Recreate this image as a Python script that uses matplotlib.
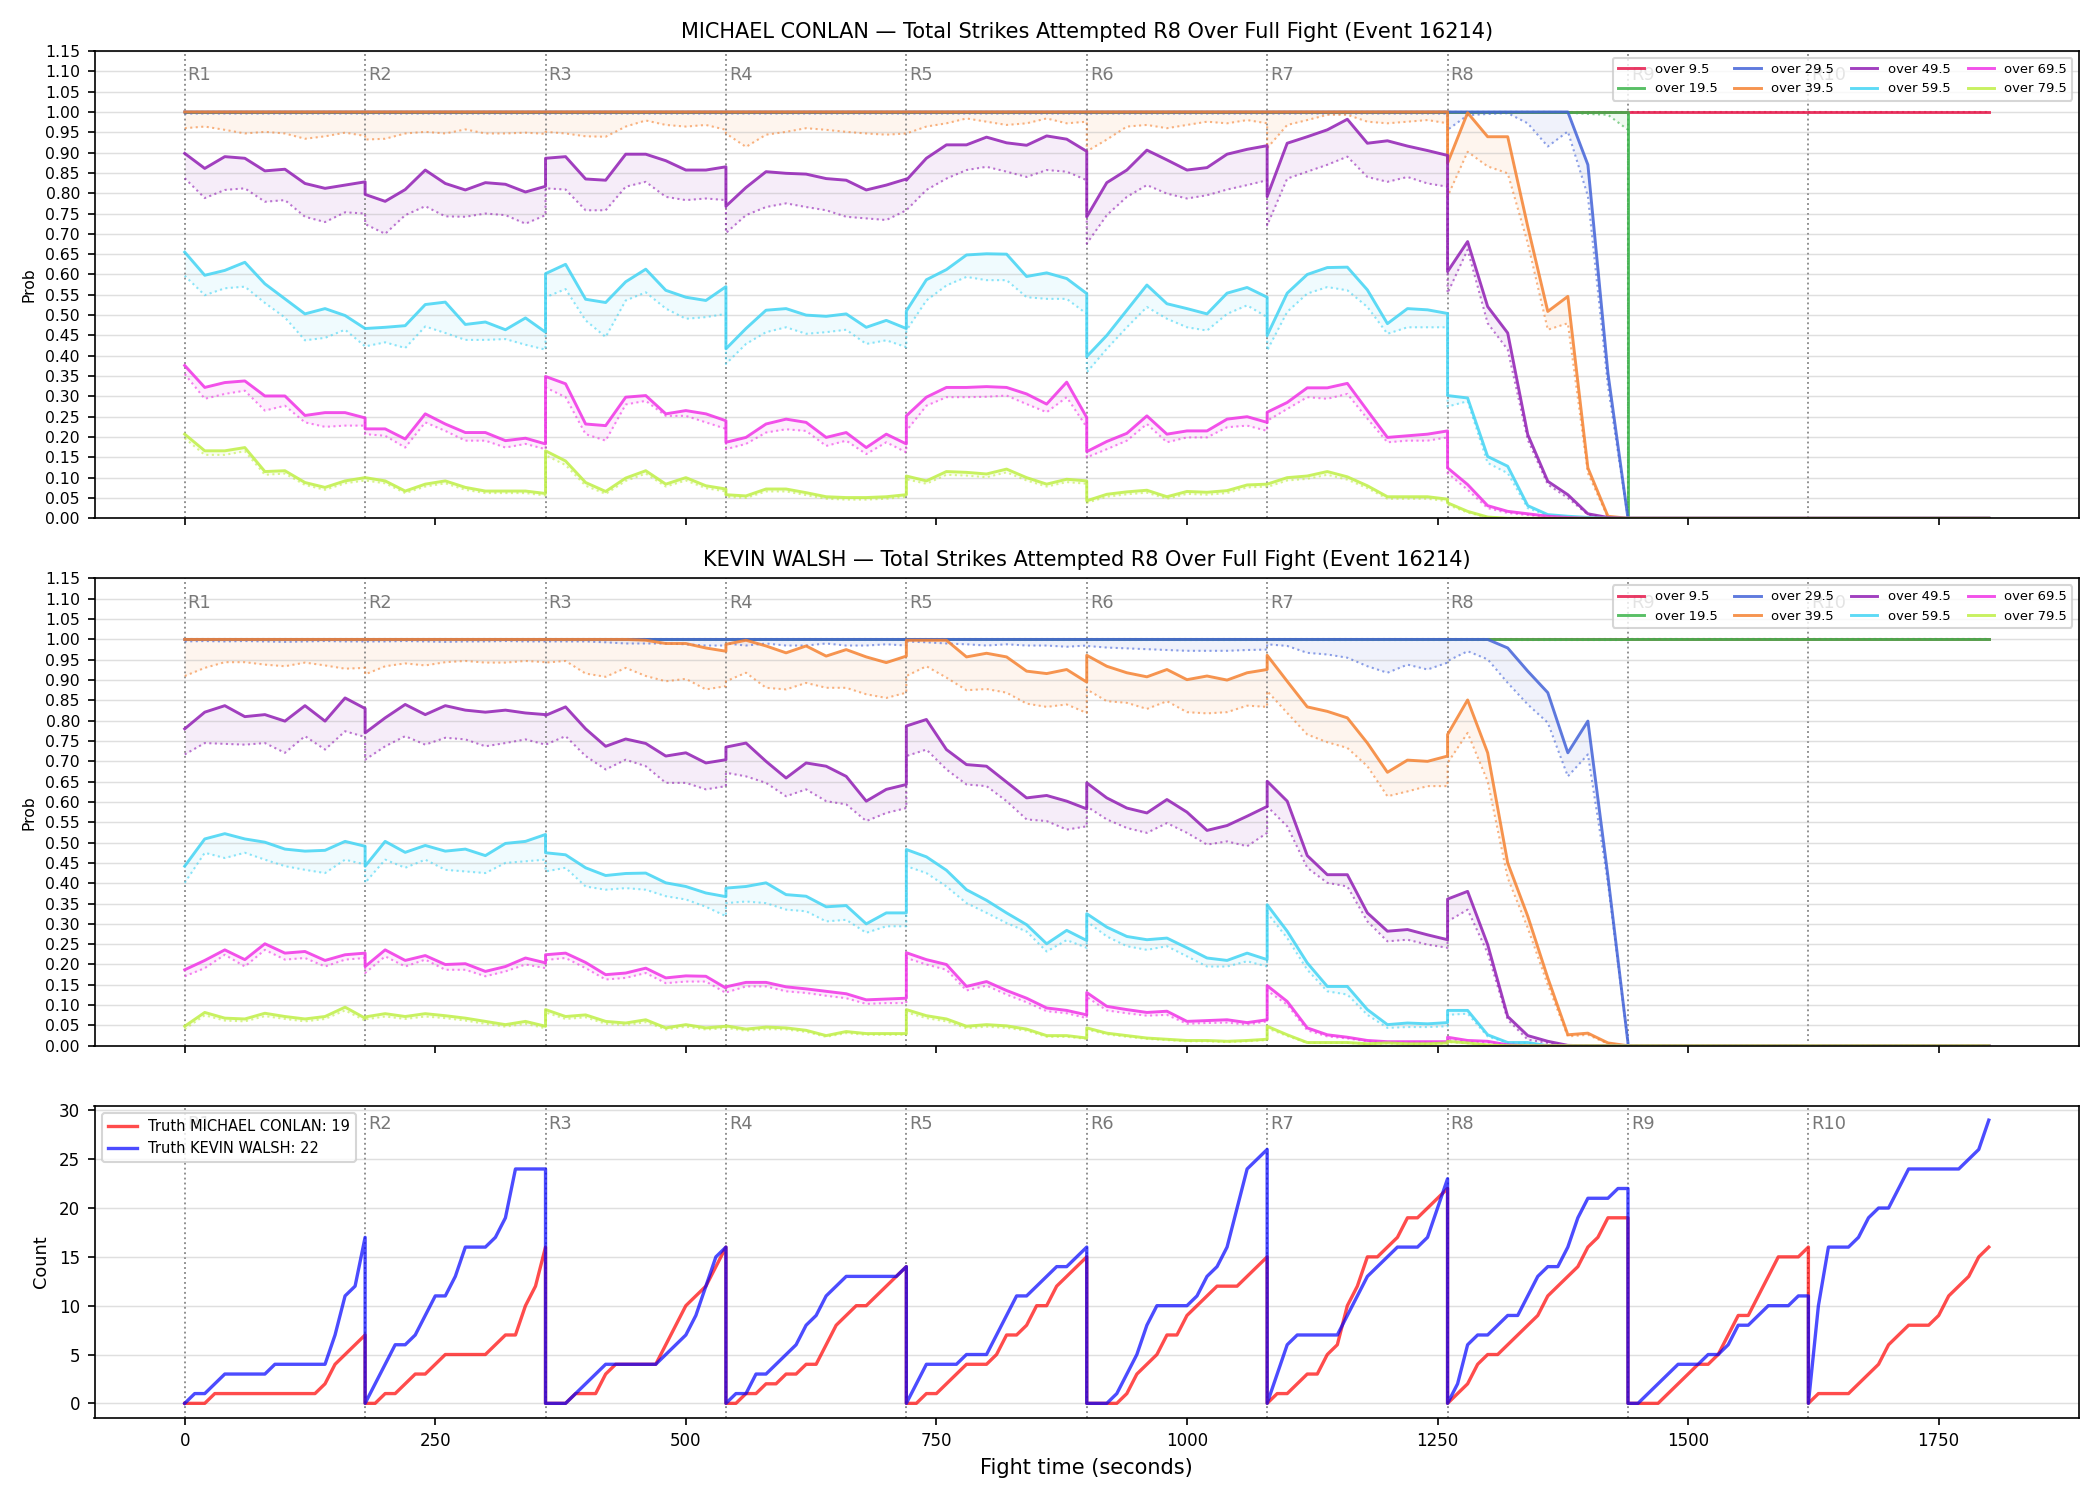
import matplotlib
matplotlib.use("Agg")
import matplotlib.pyplot as plt
import numpy as np

# ---- layout constants ----
ROUND_LEN = 180
N_ROUNDS = 10
PROB_ROUNDS = 8
END_TIME = 1800

LABELS = ["over 9.5", "over 19.5", "over 29.5", "over 39.5",
          "over 49.5", "over 59.5", "over 69.5", "over 79.5"]
COLORS = ["#e6194b", "#3cb44b", "#4363d8", "#f58231",
          "#911eb4", "#42d4f4", "#f032e6", "#bfef45"]

ONES = [1.0] * 10

# ---- MICHAEL CONLAN: prob per round (10 samples, every 20 s) ----
C_095 = [ONES] * 8
C_095_LO = [ONES] * 8
C_195 = [ONES] * 8
C_195_LO = [ONES] * 7 + [[1.0, 1.0, 1.0, 1.0, 1.0, 1.0, 0.998, 0.995, 0.993, 0.956]]
C_295 = [ONES] * 7 + [[1.0, 1.0, 1.0, 1.0, 1.0, 1.0, 1.0, 0.870, 0.357, 0.0]]
C_295_LO = [[0.996] * 10] * 7 + [[0.956, 0.992, 0.995, 0.997, 0.972, 0.915, 0.952, 0.793, 0.325, 0.0]]
C_395 = [ONES] * 7 + [[0.874, 0.998, 0.939, 0.939, 0.718, 0.509, 0.546, 0.124, 0.005, 0.0]]
C_395_LO = [
    [0.960, 0.964, 0.956, 0.947, 0.951, 0.947, 0.934, 0.940, 0.949, 0.941],
    [0.932, 0.934, 0.947, 0.951, 0.947, 0.957, 0.947, 0.947, 0.949, 0.946],
    [0.951, 0.947, 0.940, 0.939, 0.964, 0.979, 0.968, 0.964, 0.968, 0.956],
    [0.947, 0.914, 0.944, 0.951, 0.960, 0.956, 0.951, 0.947, 0.944, 0.947],
    [0.947, 0.964, 0.972, 0.984, 0.976, 0.968, 0.972, 0.984, 0.972, 0.976],
    [0.903, 0.932, 0.964, 0.968, 0.960, 0.968, 0.976, 0.972, 0.980, 0.972],
    [0.911, 0.968, 0.980, 0.993, 0.993, 0.976, 0.972, 0.976, 0.980, 0.972],
    [0.792, 0.902, 0.866, 0.849, 0.677, 0.464, 0.480, 0.111, 0.002, 0.0],
]
C_495 = [
    [0.898, 0.861, 0.890, 0.886, 0.855, 0.859, 0.824, 0.812, 0.820, 0.828],
    [0.797, 0.780, 0.809, 0.857, 0.824, 0.808, 0.826, 0.822, 0.803, 0.817],
    [0.886, 0.890, 0.835, 0.832, 0.896, 0.896, 0.880, 0.857, 0.857, 0.865],
    [0.768, 0.814, 0.853, 0.849, 0.847, 0.836, 0.832, 0.808, 0.820, 0.835],
    [0.832, 0.886, 0.919, 0.919, 0.938, 0.924, 0.918, 0.941, 0.933, 0.903],
    [0.742, 0.826, 0.857, 0.906, 0.882, 0.857, 0.863, 0.896, 0.908, 0.917],
    [0.792, 0.923, 0.939, 0.956, 0.982, 0.923, 0.929, 0.916, 0.905, 0.893],
    [0.607, 0.681, 0.521, 0.456, 0.206, 0.091, 0.058, 0.011, 0.002, 0.0],
]
C_495_LO = [
    [0.837, 0.788, 0.808, 0.812, 0.779, 0.783, 0.742, 0.729, 0.753, 0.750],
    [0.724, 0.700, 0.746, 0.768, 0.743, 0.742, 0.750, 0.746, 0.725, 0.746],
    [0.812, 0.809, 0.758, 0.758, 0.816, 0.828, 0.791, 0.783, 0.787, 0.783],
    [0.702, 0.746, 0.766, 0.775, 0.766, 0.758, 0.742, 0.738, 0.734, 0.758],
    [0.758, 0.808, 0.836, 0.857, 0.865, 0.853, 0.840, 0.857, 0.853, 0.832],
    [0.676, 0.746, 0.791, 0.820, 0.799, 0.787, 0.795, 0.809, 0.820, 0.832],
    [0.721, 0.836, 0.853, 0.870, 0.890, 0.840, 0.828, 0.840, 0.824, 0.816],
    [0.554, 0.661, 0.480, 0.415, 0.193, 0.083, 0.050, 0.009, 0.001, 0.0],
]
C_595 = [
    [0.655, 0.598, 0.610, 0.630, 0.577, 0.540, 0.503, 0.516, 0.499, 0.467],
    [0.467, 0.470, 0.474, 0.526, 0.532, 0.477, 0.483, 0.464, 0.493, 0.458],
    [0.602, 0.625, 0.539, 0.531, 0.582, 0.613, 0.561, 0.544, 0.536, 0.570],
    [0.417, 0.467, 0.512, 0.516, 0.500, 0.497, 0.503, 0.470, 0.487, 0.467],
    [0.510, 0.587, 0.612, 0.648, 0.651, 0.650, 0.595, 0.604, 0.590, 0.553],
    [0.398, 0.450, 0.512, 0.574, 0.528, 0.516, 0.503, 0.554, 0.568, 0.544],
    [0.450, 0.554, 0.600, 0.617, 0.618, 0.562, 0.479, 0.516, 0.513, 0.504],
    [0.302, 0.296, 0.152, 0.128, 0.031, 0.009, 0.005, 0.002, 0.0, 0.0],
]
C_595_LO = [
    [0.597, 0.549, 0.566, 0.570, 0.530, 0.494, 0.438, 0.444, 0.464, 0.423],
    [0.423, 0.433, 0.419, 0.472, 0.456, 0.439, 0.439, 0.441, 0.427, 0.415],
    [0.544, 0.564, 0.487, 0.446, 0.536, 0.556, 0.516, 0.491, 0.495, 0.503],
    [0.380, 0.429, 0.458, 0.470, 0.454, 0.458, 0.464, 0.429, 0.438, 0.421],
    [0.462, 0.536, 0.573, 0.594, 0.586, 0.586, 0.544, 0.540, 0.540, 0.503],
    [0.359, 0.417, 0.470, 0.520, 0.491, 0.470, 0.462, 0.503, 0.524, 0.495],
    [0.413, 0.508, 0.553, 0.569, 0.561, 0.520, 0.454, 0.470, 0.470, 0.470],
    [0.275, 0.288, 0.136, 0.111, 0.025, 0.007, 0.003, 0.001, 0.0, 0.0],
]
C_695 = [
    [0.376, 0.322, 0.334, 0.338, 0.301, 0.301, 0.253, 0.260, 0.260, 0.247],
    [0.220, 0.220, 0.195, 0.257, 0.232, 0.211, 0.211, 0.191, 0.197, 0.183],
    [0.349, 0.331, 0.232, 0.228, 0.298, 0.302, 0.257, 0.265, 0.257, 0.240],
    [0.187, 0.199, 0.232, 0.244, 0.236, 0.199, 0.211, 0.174, 0.207, 0.183],
    [0.252, 0.298, 0.322, 0.322, 0.324, 0.322, 0.306, 0.281, 0.335, 0.248],
    [0.164, 0.189, 0.209, 0.252, 0.207, 0.215, 0.215, 0.244, 0.250, 0.236],
    [0.261, 0.285, 0.321, 0.321, 0.332, 0.265, 0.199, 0.203, 0.207, 0.215],
    [0.124, 0.083, 0.031, 0.017, 0.011, 0.005, 0.002, 0.0, 0.0, 0.0],
]
C_695_LO = [
    [0.355, 0.294, 0.306, 0.314, 0.265, 0.277, 0.236, 0.225, 0.228, 0.228],
    [0.207, 0.203, 0.174, 0.236, 0.215, 0.191, 0.191, 0.174, 0.183, 0.170],
    [0.322, 0.298, 0.207, 0.191, 0.280, 0.289, 0.252, 0.252, 0.236, 0.220],
    [0.170, 0.183, 0.211, 0.219, 0.215, 0.178, 0.191, 0.158, 0.187, 0.162],
    [0.215, 0.277, 0.298, 0.298, 0.299, 0.302, 0.281, 0.261, 0.298, 0.224],
    [0.150, 0.170, 0.191, 0.232, 0.187, 0.199, 0.199, 0.224, 0.228, 0.215],
    [0.240, 0.269, 0.298, 0.294, 0.306, 0.245, 0.187, 0.191, 0.191, 0.199],
    [0.111, 0.070, 0.025, 0.013, 0.008, 0.003, 0.001, 0.0, 0.0, 0.0],
]
C_795 = [
    [0.207, 0.166, 0.166, 0.174, 0.115, 0.117, 0.088, 0.076, 0.092, 0.100],
    [0.100, 0.092, 0.067, 0.084, 0.092, 0.076, 0.067, 0.067, 0.067, 0.061],
    [0.166, 0.141, 0.088, 0.066, 0.099, 0.117, 0.084, 0.100, 0.080, 0.072],
    [0.058, 0.055, 0.072, 0.072, 0.063, 0.053, 0.051, 0.051, 0.053, 0.058],
    [0.104, 0.092, 0.115, 0.113, 0.109, 0.121, 0.100, 0.084, 0.096, 0.092],
    [0.043, 0.059, 0.065, 0.069, 0.053, 0.066, 0.064, 0.068, 0.082, 0.084],
    [0.084, 0.100, 0.104, 0.115, 0.102, 0.080, 0.053, 0.053, 0.053, 0.047],
    [0.038, 0.017, 0.003, 0.0, 0.0, 0.0, 0.0, 0.0, 0.0, 0.0],
]
C_795_LO = [
    [0.197, 0.156, 0.156, 0.165, 0.107, 0.110, 0.082, 0.070, 0.086, 0.093],
    [0.093, 0.086, 0.062, 0.078, 0.086, 0.070, 0.062, 0.062, 0.062, 0.056],
    [0.155, 0.131, 0.080, 0.060, 0.092, 0.110, 0.078, 0.093, 0.074, 0.066],
    [0.053, 0.050, 0.066, 0.066, 0.057, 0.048, 0.046, 0.046, 0.048, 0.053],
    [0.096, 0.085, 0.107, 0.105, 0.101, 0.113, 0.093, 0.078, 0.089, 0.085],
    [0.038, 0.053, 0.059, 0.063, 0.048, 0.060, 0.058, 0.062, 0.076, 0.078],
    [0.077, 0.093, 0.097, 0.107, 0.095, 0.074, 0.048, 0.048, 0.048, 0.042],
    [0.033, 0.014, 0.002, 0.0, 0.0, 0.0, 0.0, 0.0, 0.0, 0.0],
]
C_TAIL = [1.0, 0.0, 0.0, 0.0, 0.0, 0.0, 0.0, 0.0]   # after R8 (1440 s -> 1800 s)

# ---- KEVIN WALSH ----
W_095 = [ONES] * 8
W_095_LO = [ONES] * 8
W_195 = [ONES] * 8
W_195_LO = [[0.998] * 10] * 8
W_295 = [ONES] * 7 + [[1.0, 1.0, 1.0, 0.979, 0.922, 0.869, 0.721, 0.799, 0.417, 0.007]]
W_295_LO = [
    [0.995, 0.996, 0.995, 0.996, 0.995, 0.994, 0.995, 0.996, 0.995, 0.995],
    [0.995, 0.995, 0.996, 0.995, 0.994, 0.995, 0.995, 0.996, 0.995, 0.995],
    [0.995, 0.995, 0.995, 0.993, 0.990, 0.990, 0.990, 0.988, 0.985, 0.985],
    [0.990, 0.985, 0.990, 0.985, 0.985, 0.990, 0.985, 0.985, 0.988, 0.985],
    [0.995, 0.993, 0.990, 0.988, 0.985, 0.988, 0.985, 0.985, 0.982, 0.985],
    [0.984, 0.980, 0.978, 0.976, 0.974, 0.972, 0.972, 0.972, 0.974, 0.975],
    [0.988, 0.984, 0.967, 0.963, 0.955, 0.934, 0.918, 0.938, 0.926, 0.943],
    [0.947, 0.971, 0.951, 0.893, 0.840, 0.795, 0.663, 0.717, 0.401, 0.007],
]
W_395 = [
    ONES,
    ONES,
    [1.0, 1.0, 1.0, 1.0, 1.0, 0.998, 0.990, 0.990, 0.979, 0.971],
    [0.988, 0.998, 0.984, 0.967, 0.984, 0.959, 0.975, 0.957, 0.943, 0.959],
    [0.998, 0.998, 0.998, 0.957, 0.966, 0.957, 0.922, 0.916, 0.926, 0.895],
    [0.961, 0.934, 0.918, 0.908, 0.926, 0.901, 0.910, 0.900, 0.918, 0.926],
    [0.961, 0.897, 0.834, 0.823, 0.807, 0.745, 0.673, 0.703, 0.700, 0.713],
    [0.766, 0.851, 0.721, 0.450, 0.319, 0.167, 0.027, 0.031, 0.007, 0.0],
]
W_395_LO = [
    [0.910, 0.930, 0.944, 0.944, 0.938, 0.934, 0.943, 0.936, 0.928, 0.930],
    [0.914, 0.934, 0.941, 0.936, 0.944, 0.947, 0.943, 0.943, 0.947, 0.944],
    [0.943, 0.947, 0.916, 0.908, 0.930, 0.910, 0.897, 0.903, 0.877, 0.885],
    [0.897, 0.918, 0.881, 0.877, 0.893, 0.881, 0.881, 0.865, 0.856, 0.869],
    [0.910, 0.934, 0.906, 0.875, 0.878, 0.869, 0.842, 0.834, 0.840, 0.819],
    [0.877, 0.848, 0.844, 0.829, 0.848, 0.821, 0.818, 0.821, 0.837, 0.834],
    [0.873, 0.819, 0.766, 0.747, 0.733, 0.688, 0.614, 0.626, 0.639, 0.639],
    [0.696, 0.770, 0.651, 0.413, 0.290, 0.150, 0.023, 0.027, 0.005, 0.0],
]
W_495 = [
    [0.780, 0.821, 0.837, 0.810, 0.815, 0.799, 0.837, 0.799, 0.856, 0.830],
    [0.770, 0.807, 0.840, 0.815, 0.837, 0.826, 0.821, 0.826, 0.819, 0.815],
    [0.813, 0.834, 0.780, 0.737, 0.755, 0.744, 0.713, 0.721, 0.696, 0.704],
    [0.735, 0.745, 0.700, 0.659, 0.696, 0.688, 0.663, 0.602, 0.631, 0.643],
    [0.787, 0.803, 0.729, 0.692, 0.688, 0.649, 0.610, 0.616, 0.602, 0.583],
    [0.647, 0.610, 0.585, 0.573, 0.606, 0.575, 0.530, 0.542, 0.565, 0.589],
    [0.651, 0.602, 0.468, 0.421, 0.421, 0.327, 0.282, 0.286, 0.273, 0.261],
    [0.361, 0.380, 0.249, 0.072, 0.025, 0.011, 0.001, 0.0, 0.0, 0.0],
]
W_495_LO = [
    [0.717, 0.745, 0.743, 0.741, 0.745, 0.721, 0.762, 0.729, 0.774, 0.760],
    [0.704, 0.737, 0.762, 0.741, 0.758, 0.754, 0.737, 0.745, 0.754, 0.741],
    [0.741, 0.762, 0.713, 0.680, 0.704, 0.688, 0.647, 0.647, 0.631, 0.639],
    [0.672, 0.663, 0.647, 0.614, 0.631, 0.602, 0.594, 0.553, 0.573, 0.585],
    [0.713, 0.729, 0.680, 0.643, 0.639, 0.602, 0.557, 0.553, 0.532, 0.540],
    [0.589, 0.557, 0.536, 0.524, 0.548, 0.524, 0.495, 0.503, 0.491, 0.524],
    [0.589, 0.540, 0.438, 0.401, 0.392, 0.306, 0.257, 0.261, 0.249, 0.241],
    [0.306, 0.335, 0.228, 0.064, 0.015, 0.007, 0.0, 0.0, 0.0, 0.0],
]
W_595 = [
    [0.442, 0.509, 0.522, 0.509, 0.501, 0.484, 0.479, 0.481, 0.503, 0.491],
    [0.442, 0.503, 0.476, 0.493, 0.479, 0.484, 0.468, 0.498, 0.503, 0.520],
    [0.475, 0.470, 0.438, 0.419, 0.424, 0.425, 0.401, 0.392, 0.376, 0.367],
    [0.388, 0.392, 0.401, 0.372, 0.368, 0.342, 0.345, 0.300, 0.327, 0.327],
    [0.483, 0.465, 0.432, 0.384, 0.358, 0.327, 0.298, 0.251, 0.284, 0.259],
    [0.325, 0.292, 0.269, 0.261, 0.265, 0.241, 0.216, 0.210, 0.228, 0.212],
    [0.347, 0.282, 0.204, 0.146, 0.146, 0.089, 0.052, 0.056, 0.054, 0.057],
    [0.087, 0.087, 0.027, 0.008, 0.008, 0.0, 0.0, 0.0, 0.0, 0.0],
]
W_595_LO = [
    [0.401, 0.475, 0.462, 0.475, 0.458, 0.442, 0.433, 0.425, 0.458, 0.446],
    [0.401, 0.458, 0.438, 0.458, 0.433, 0.429, 0.425, 0.450, 0.454, 0.458],
    [0.429, 0.438, 0.392, 0.384, 0.388, 0.384, 0.368, 0.360, 0.342, 0.319],
    [0.351, 0.355, 0.351, 0.335, 0.331, 0.306, 0.310, 0.278, 0.294, 0.294],
    [0.442, 0.425, 0.392, 0.351, 0.327, 0.302, 0.281, 0.232, 0.260, 0.241],
    [0.306, 0.269, 0.245, 0.236, 0.245, 0.220, 0.195, 0.195, 0.208, 0.195],
    [0.327, 0.265, 0.187, 0.134, 0.126, 0.076, 0.044, 0.046, 0.046, 0.048],
    [0.076, 0.079, 0.023, 0.007, 0.007, 0.0, 0.0, 0.0, 0.0, 0.0],
]
W_695 = [
    [0.187, 0.210, 0.236, 0.212, 0.251, 0.228, 0.232, 0.210, 0.224, 0.228],
    [0.195, 0.236, 0.210, 0.222, 0.200, 0.202, 0.183, 0.195, 0.216, 0.204],
    [0.224, 0.228, 0.205, 0.175, 0.179, 0.191, 0.167, 0.172, 0.171, 0.142],
    [0.145, 0.156, 0.156, 0.145, 0.140, 0.134, 0.128, 0.113, 0.115, 0.117],
    [0.229, 0.212, 0.200, 0.146, 0.158, 0.136, 0.117, 0.093, 0.087, 0.076],
    [0.131, 0.097, 0.089, 0.082, 0.085, 0.060, 0.062, 0.064, 0.057, 0.064],
    [0.148, 0.109, 0.044, 0.027, 0.021, 0.013, 0.010, 0.010, 0.010, 0.010],
    [0.021, 0.013, 0.011, 0.002, 0.0, 0.0, 0.0, 0.0, 0.0, 0.0],
]
W_695_LO = [
    [0.171, 0.191, 0.224, 0.195, 0.236, 0.212, 0.216, 0.195, 0.212, 0.216],
    [0.179, 0.220, 0.195, 0.212, 0.187, 0.187, 0.171, 0.183, 0.200, 0.191],
    [0.211, 0.216, 0.191, 0.163, 0.167, 0.179, 0.154, 0.158, 0.158, 0.130],
    [0.131, 0.146, 0.146, 0.134, 0.130, 0.123, 0.117, 0.103, 0.105, 0.105],
    [0.216, 0.200, 0.187, 0.136, 0.148, 0.126, 0.107, 0.085, 0.080, 0.068],
    [0.120, 0.087, 0.080, 0.074, 0.076, 0.054, 0.056, 0.057, 0.052, 0.060],
    [0.136, 0.101, 0.038, 0.023, 0.018, 0.011, 0.008, 0.008, 0.008, 0.008],
    [0.015, 0.010, 0.008, 0.002, 0.0, 0.0, 0.0, 0.0, 0.0, 0.0],
]
W_795 = [
    [0.048, 0.082, 0.068, 0.066, 0.080, 0.072, 0.066, 0.072, 0.095, 0.068],
    [0.071, 0.079, 0.072, 0.079, 0.074, 0.068, 0.060, 0.052, 0.060, 0.048],
    [0.089, 0.072, 0.076, 0.060, 0.056, 0.064, 0.044, 0.052, 0.044, 0.048],
    [0.049, 0.041, 0.046, 0.044, 0.038, 0.025, 0.035, 0.030, 0.030, 0.030],
    [0.089, 0.074, 0.066, 0.048, 0.052, 0.049, 0.041, 0.025, 0.025, 0.019],
    [0.044, 0.031, 0.025, 0.019, 0.016, 0.013, 0.013, 0.011, 0.013, 0.016],
    [0.048, 0.027, 0.008, 0.008, 0.008, 0.005, 0.007, 0.005, 0.005, 0.007],
    [0.011, 0.007, 0.002, 0.0, 0.0, 0.0, 0.0, 0.0, 0.0, 0.0],
]
W_795_LO = [
    [0.041, 0.075, 0.062, 0.060, 0.073, 0.066, 0.060, 0.066, 0.087, 0.062],
    [0.065, 0.072, 0.066, 0.072, 0.068, 0.062, 0.054, 0.047, 0.054, 0.043],
    [0.082, 0.066, 0.070, 0.054, 0.051, 0.058, 0.040, 0.047, 0.040, 0.043],
    [0.044, 0.037, 0.041, 0.040, 0.034, 0.022, 0.031, 0.027, 0.027, 0.027],
    [0.082, 0.068, 0.060, 0.043, 0.047, 0.044, 0.037, 0.022, 0.022, 0.017],
    [0.040, 0.028, 0.022, 0.017, 0.014, 0.011, 0.011, 0.009, 0.011, 0.014],
    [0.043, 0.024, 0.007, 0.007, 0.007, 0.004, 0.006, 0.004, 0.004, 0.006],
    [0.009, 0.006, 0.002, 0.0, 0.0, 0.0, 0.0, 0.0, 0.0, 0.0],
]
W_TAIL = [1.0, 1.0, 0.0, 0.0, 0.0, 0.0, 0.0, 0.0]

# ---- truth: cumulative strikes within each round (every 10 s) ----
CONLAN_TRUTH = [
    [0, 0, 0, 1, 1, 1, 1, 1, 1, 1, 1, 1, 1, 1, 2, 4, 5, 6, 7],
    [0, 0, 1, 1, 2, 3, 3, 4, 5, 5, 5, 5, 5, 6, 7, 7, 10, 12, 16],
    [0, 0, 0, 1, 1, 1, 3, 4, 4, 4, 4, 4, 6, 8, 10, 11, 12, 14, 16],
    [0, 0, 1, 1, 2, 2, 3, 3, 4, 4, 6, 8, 9, 10, 10, 11, 12, 13, 14],
    [0, 0, 1, 1, 2, 3, 4, 4, 4, 5, 7, 7, 8, 10, 10, 12, 13, 14, 15],
    [0, 0, 0, 0, 1, 3, 4, 5, 7, 7, 9, 10, 11, 12, 12, 12, 13, 14, 15],
    [0, 1, 1, 2, 3, 3, 5, 6, 10, 12, 15, 15, 16, 17, 19, 19, 20, 21, 22],
    [0, 1, 2, 4, 5, 5, 6, 7, 8, 9, 11, 12, 13, 14, 16, 17, 19, 19, 19],
    [0, 0, 0, 0, 1, 2, 3, 4, 4, 5, 7, 9, 9, 11, 13, 15, 15, 15, 16],
    [0, 1, 1, 1, 1, 2, 3, 4, 6, 7, 8, 8, 8, 9, 11, 12, 13, 15, 16],
]
WALSH_TRUTH = [
    [0, 1, 1, 2, 3, 3, 3, 3, 3, 4, 4, 4, 4, 4, 4, 7, 11, 12, 17],
    [0, 2, 4, 6, 6, 7, 9, 11, 11, 13, 16, 16, 16, 17, 19, 24, 24, 24, 24],
    [0, 0, 0, 1, 2, 3, 4, 4, 4, 4, 4, 4, 5, 6, 7, 9, 12, 15, 16],
    [0, 1, 1, 3, 3, 4, 5, 6, 8, 9, 11, 12, 13, 13, 13, 13, 13, 13, 14],
    [0, 2, 4, 4, 4, 4, 5, 5, 5, 7, 9, 11, 11, 12, 13, 14, 14, 15, 16],
    [0, 0, 0, 1, 3, 5, 8, 10, 10, 10, 10, 11, 13, 14, 16, 20, 24, 25, 26],
    [0, 3, 6, 7, 7, 7, 7, 7, 9, 11, 13, 14, 15, 16, 16, 16, 17, 20, 23],
    [0, 2, 6, 7, 7, 8, 9, 9, 11, 13, 14, 14, 16, 19, 21, 21, 21, 22, 22],
    [0, 0, 1, 2, 3, 4, 4, 4, 5, 5, 6, 8, 8, 9, 10, 10, 10, 11, 11],
    [0, 10, 16, 16, 16, 17, 19, 20, 20, 22, 24, 24, 24, 24, 24, 24, 25, 26, 29],
]

CONLAN_SERIES = [(C_095, C_095_LO), (C_195, C_195_LO), (C_295, C_295_LO), (C_395, C_395_LO),
                 (C_495, C_495_LO), (C_595, C_595_LO), (C_695, C_695_LO), (C_795, C_795_LO)]
WALSH_SERIES = [(W_095, W_095_LO), (W_195, W_195_LO), (W_295, W_295_LO), (W_395, W_395_LO),
                (W_495, W_495_LO), (W_595, W_595_LO), (W_695, W_695_LO), (W_795, W_795_LO)]


def prob_time(n_per_round):
    return np.concatenate([r * ROUND_LEN + np.linspace(0, ROUND_LEN, n_per_round)
                           for r in range(PROB_ROUNDS)])


def round_marks(ax, y_text):
    for r in range(N_ROUNDS):
        x = r * ROUND_LEN
        ax.axvline(x, color="gray", linestyle=":", linewidth=0.9, alpha=0.9, zorder=1)
        ax.text(x + 3, y_text, f"R{r + 1}", color="dimgray", fontsize=8.5,
                va="center", ha="left", alpha=0.9, zorder=1)


def prob_panel(ax, series, tail, title):
    t = prob_time(10)
    t_full = np.concatenate([t, [PROB_ROUNDS * ROUND_LEN, END_TIME]])
    handles = []
    for (hi, lo), tv, lab, col in zip(series, tail, LABELS, COLORS):
        hi_v = np.concatenate([np.concatenate(hi), [tv, tv]])
        lo_v = np.concatenate([np.concatenate(lo), [tv, tv]])
        ax.fill_between(t_full, lo_v, hi_v, color=col, alpha=0.08, linewidth=0)
        ax.plot(t_full, lo_v, color=col, linestyle=":", linewidth=1.0, alpha=0.6)
        h, = ax.plot(t_full, hi_v, color=col, linewidth=1.4, alpha=0.85, label=lab)
        handles.append(h)
    round_marks(ax, 1.09)
    ax.set_ylim(0, 1.15)
    ax.set_yticks(np.arange(0, 1.151, 0.05))
    ax.set_yticklabels([f"{v:.2f}" for v in np.arange(0, 1.151, 0.05)])
    ax.set_ylabel("Prob", fontsize=7.5)
    ax.tick_params(axis="y", labelsize=7.5)
    ax.tick_params(axis="x", labelbottom=False)
    ax.grid(axis="y", color="#b0b0b0", alpha=0.4, linewidth=0.7)
    ax.set_title(title, fontsize=10)
    ax.legend(handles=handles, loc="upper right", ncol=4, fontsize=6.3,
              columnspacing=1.3, framealpha=0.8)


fig = plt.figure(figsize=(14, 10), dpi=150)
gs = fig.add_gridspec(3, 1, height_ratios=[3, 3, 2], hspace=0.145,
                      left=0.045, right=0.99, top=0.966, bottom=0.055)
ax1 = fig.add_subplot(gs[0])
ax2 = fig.add_subplot(gs[1], sharex=ax1)
ax3 = fig.add_subplot(gs[2], sharex=ax1)

prob_panel(ax1, CONLAN_SERIES, C_TAIL,
           "MICHAEL CONLAN — Total Strikes Attempted R8 Over Full Fight (Event 16214)")
prob_panel(ax2, WALSH_SERIES, W_TAIL,
           "KEVIN WALSH — Total Strikes Attempted R8 Over Full Fight (Event 16214)")

# truth panel
offsets = np.arange(0, ROUND_LEN + 1, 10)
t_truth = np.concatenate([r * ROUND_LEN + offsets for r in range(N_ROUNDS)])
conlan_v = np.concatenate(CONLAN_TRUTH)
walsh_v = np.concatenate(WALSH_TRUTH)
ax3.plot(t_truth, conlan_v, color="red", alpha=0.7, linewidth=1.6,
         label=f"Truth MICHAEL CONLAN: {CONLAN_TRUTH[PROB_ROUNDS - 1][-1]}")
ax3.plot(t_truth, walsh_v, color="blue", alpha=0.7, linewidth=1.6,
         label=f"Truth KEVIN WALSH: {WALSH_TRUTH[PROB_ROUNDS - 1][-1]}")
ax3.set_ylim(-1.45, 30.45)
round_marks(ax3, 28.6)
ax3.set_yticks(np.arange(0, 31, 5))
ax3.tick_params(labelsize=8)
ax3.set_ylabel("Count", fontsize=8.5)
ax3.set_xlabel("Fight time (seconds)", fontsize=10)
ax3.grid(axis="y", color="#b0b0b0", alpha=0.4, linewidth=0.7)
ax3.legend(loc="upper left", fontsize=7, framealpha=0.8)
ax3.set_xlim(-90, 1890)
ax3.set_xticks([0, 250, 500, 750, 1000, 1250, 1500, 1750])

fig.savefig("out.png", dpi=150)
